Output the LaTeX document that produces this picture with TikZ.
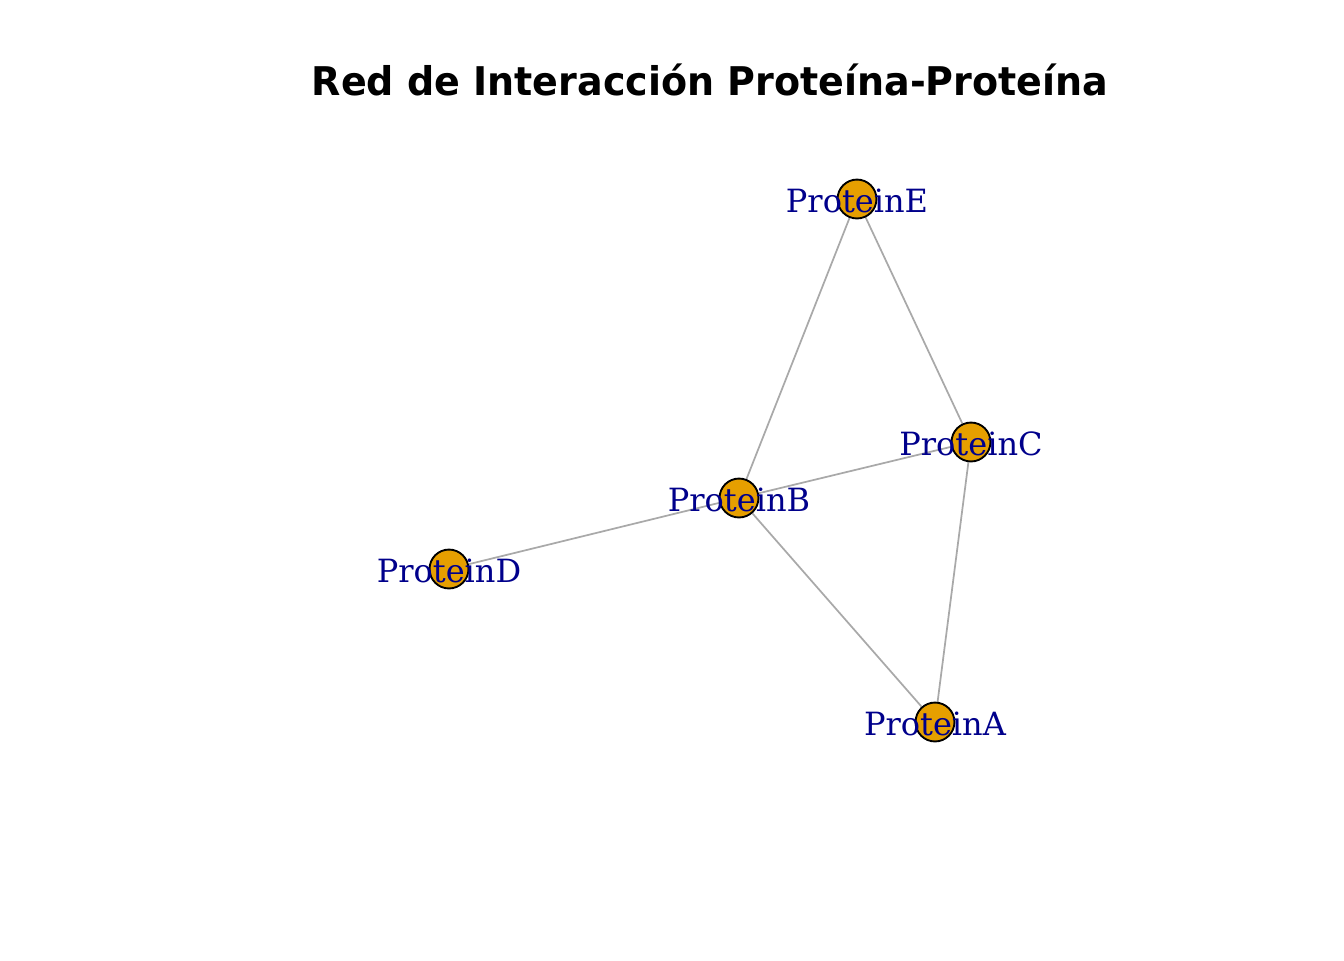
\documentclass[tikz,border=0pt]{standalone}
\usepackage{fontspec}
\setmainfont{DejaVu Serif}
\newfontfamily\titlefont{DejaVu Sans}
\usetikzlibrary{backgrounds}
\definecolor{protfill}{HTML}{E69F00}
\definecolor{protlabel}{HTML}{00008B}
\definecolor{edgegray}{HTML}{A9A9A9}
\tikzset{
  protein/.style={
    circle,
    draw=black,
    line width=0.7pt,
    fill=protfill,
    minimum size=14.6pt,
    inner sep=0pt
  },
  plabel/.style={text=protlabel, inner sep=0pt, yshift=-0.8pt, font=\fontsize{12}{14}\selectfont},
  link/.style={draw=edgegray, line width=0.65pt},
  title/.style={inner sep=0pt, font=\titlefont\bfseries\fontsize{14.4}{17}\selectfont}
}

\begin{document}
\begin{tikzpicture}[x=0.375pt, y=-0.375pt]
  \useasboundingbox (0,0) rectangle (1344,960);

  \node[title, xscale=0.99, yscale=1.03] (head) at (710,80) {Red de Interacción Proteína-Proteína};

  % vertices
  \node[protein] (pE) at (857,199) {};
  \node[protein] (pC) at (971,442) {};
  \node[protein] (pB) at (739,498) {};
  \node[protein] (pD) at (449,569) {};
  \node[protein] (pA) at (935,722) {};

  % labels on top of the vertices
  \node[plabel] (lE) at (pE) {ProteinE};
  \node[plabel] (lC) at (pC) {ProteinC};
  \node[plabel] (lB) at (pB) {ProteinB};
  \node[plabel] (lD) at (pD) {ProteinD};
  \node[plabel] (lA) at (pA) {ProteinA};

  % interactions
  \begin{pgfonlayer}{background}
    \draw[link] (pE) -- (pB);
    \draw[link] (pE) -- (pC);
    \draw[link] (pB) -- (pC);
    \draw[link] (pB) -- (pD);
    \draw[link] (pB) -- (pA);
    \draw[link] (pC) -- (pA);
  \end{pgfonlayer}

\end{tikzpicture}
\end{document}
